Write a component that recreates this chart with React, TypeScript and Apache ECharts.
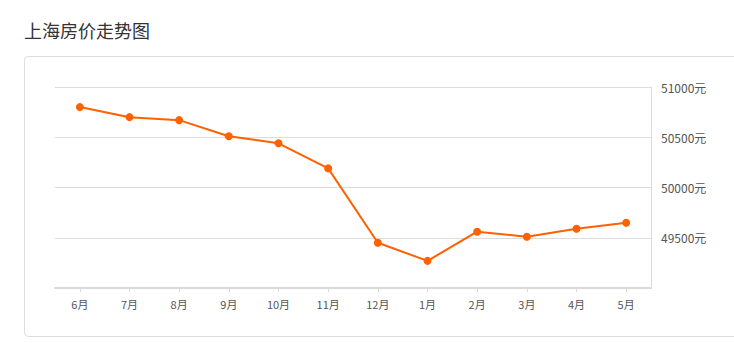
import React, { useEffect, useRef } from "react";
import * as echarts from "echarts";

const months = ["6月", "7月", "8月", "9月", "10月", "11月", "12月", "1月", "2月", "3月", "4月", "5月"];
const prices = [50800, 50700, 50670, 50510, 50440, 50190, 49450, 49270, 49560, 49510, 49590, 49650];
const yTicks = [49000, 51000, 500];
const titleText = "上海房价走势图";
const unit = "元";

export default function App() {
  const ref = useRef<HTMLDivElement>(null);
  useEffect(() => {
    const chart = echarts.init(ref.current!, null, { renderer: "svg" });
    chart.setOption({
      animation: false,
      backgroundColor: "#fff",
      title: {
        text: titleText,
        left: 19,
        top: 16,
        textStyle: { fontSize: 18, fontWeight: "normal", color: "#333", fontFamily: "Noto Sans CJK SC" },
      },
      graphic: [
        {
          type: "rect",
          z: -10,
          shape: { x: 24.5, y: 56.5, width: 730, height: 280, r: 4 },
          style: { fill: "#fff", stroke: "#dcdcdc", lineWidth: 1 },
        },
      ],
      grid: { left: 55, right: 83, top: 87, bottom: 65 },
      xAxis: {
        type: "category",
        data: months,
        boundaryGap: true,
        axisLine: { show: true, lineStyle: { color: "#d9d9d9", width: 2 } },
        axisTick: { show: true, alignWithLabel: true, length: 4, lineStyle: { color: "#d9d9d9" } },
        axisLabel: { color: "#555", fontSize: 11, margin: 10, fontFamily: "Noto Sans CJK SC" },
        splitLine: { show: false },
      },
      yAxis: {
        type: "value",
        position: "right",
        min: yTicks[0],
        max: yTicks[1],
        interval: yTicks[2],
        axisLine: { show: true, lineStyle: { color: "#d9d9d9", width: 1 } },
        axisTick: { show: false },
        axisLabel: {
          showMinLabel: false,
          color: "#555",
          fontSize: 12,
          margin: 10,
          fontFamily: "Noto Sans CJK SC",
          formatter: (v: number) => (v === yTicks[0] ? "" : v + unit),
        },
        splitLine: { show: true, lineStyle: { color: "#dcdcdc", width: 1 } },
      },
      series: [
        {
          type: "line",
          data: prices,
          symbol: "circle",
          symbolSize: 8,
          lineStyle: { color: "#ff6000", width: 2 },
          itemStyle: { color: "#ff6000" },
        },
      ],
    });
    return () => chart.dispose();
  }, []);
  return (
    <div
      ref={ref}
      style={{ position: "fixed", left: 0, top: 0, width: 734, height: 353 }}
    />
  );
}
